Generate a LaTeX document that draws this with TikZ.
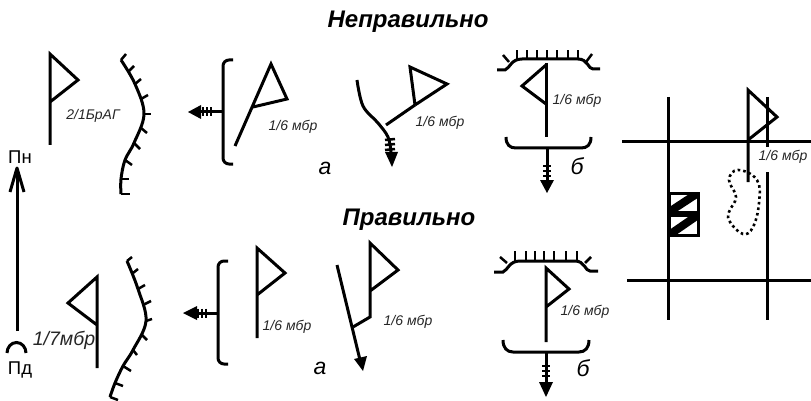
\documentclass[tikz,border=0pt]{standalone}
\usepackage{fontspec}
\setmainfont{Liberation Sans}
\tikzset{
  sym/.style={line width=3pt, line cap=butt, line join=miter},
  tick/.style={line width=2.5pt},
  tag/.style={font=\itshape\fontsize{14}{14}\selectfont, text=black!85, inner sep=0pt},
  letter/.style={font=\itshape\fontsize{23}{23}\selectfont, inner sep=0pt},
  heading/.style={font=\bfseries\itshape\fontsize{24}{24}\selectfont, inner sep=0pt},
  dir/.style={font=\fontsize{18.5}{18.5}\selectfont, inner sep=0pt}
}
% three bars and a solid head, pointing along the line
\newcommand{\headdown}[4]{% x, tip y, base y, first bar y
  \fill (#1-7,#3) -- (#1,#2) -- (#1+7,#3) -- cycle;
  \foreach \d in {0,5,10} \draw[tick] (#1-4,#4+\d) -- (#1+4,#4+\d);
}
\begin{document}
\begin{tikzpicture}[x=1pt,y=-1pt]
\useasboundingbox (0,0) rectangle (811,401);

% Headings
\node[heading] (wrong) at (408,22) {Неправильно};
\node[heading] (right) at (409,220) {Правильно};

% North - south arrow
\draw[sym] (17,331) -- (17,170);
\draw[sym,line join=round] (10,192) -- (17,168) -- (24,192);
\draw[sym] (7,353) arc (180:360:9.5 and 10.5);
\node[dir] (pn) at (20,157) {Пн};
\node[dir] (pd) at (20,370) {Пд};

% Top row: flag and edge
\draw[sym] (50,145) -- (50,54) -- (78,80) -- (50,102);
\node[tag] (brag) at (93,116) {2/1БрАГ};
\draw[sym] plot[smooth,tension=0.6] coordinates {(121,60) (135,84) (144,114) (134,143) (125,160) (121,179) (121,194)};
\foreach \xa/\ya/\xb/\yb in {121/60/126/54, 129/71/134/66, 135/84/141/79, 141/99/148/95, 144/114/151/114,
  141/128/147/133, 134/143/140/149, 125/160/132/165, 121/179/129/179, 121/194/130/194}
  \draw[tick] (\xa,\ya) -- (\xb,\yb);

% Top row: bracket, arrow and leaning flag
\draw[sym,rounded corners=6pt] (233,60) -- (223,60) -- (223,164) -- (233,164);
\draw[sym] (223,112) -- (198,112);
\fill (188,112) -- (201,105) -- (201,119) -- cycle;
\foreach \x in {203,207,211} \draw[tick] (\x,107.5) -- (\x,116.5);
\draw[sym] (235,146) -- (271,64) -- (287,99) -- (253,107);
\node[tag] (topa) at (293,127) {1/6 мбр};

% Top row: bent arrow
\draw[sym] plot[smooth,tension=0.6] coordinates {(357,80) (363,106) (378,123) (388,137) (391,152)};
\fill (385,152) -- (392,167) -- (398,152) -- cycle;
\foreach \y/\w in {139/4,144/4,149/4} \draw[tick] (389-\w,\y+1) -- (391+\w,\y);
\draw[sym] (386,125) -- (415,105);
\draw[sym] (415,105) -- (410,67) -- (447,84) -- (415,105);
\node[tag] (topb) at (440,123) {1/6 мбр};
\node[letter] (la) at (325,168) {а};

% Top row: ridge, flag and bracket
\draw[sym] (497,70) -- (505,70) .. controls (510,68) and (511,59) .. (522,59) -- (578,59) .. controls (588,59) and (588,69) .. (593,69) -- (600,69);
\foreach \x in {517,527,537,547,557,568,578} \draw[tick] (\x,60) -- (\x,50);
\draw[tick] (503,55) -- (509,62);
\draw[tick] (592,54) -- (586,62);
\draw[sym] (546,63) -- (546,137);
\draw[sym] (546,65) -- (522,86) -- (546,104);
\node[tag] (topc) at (577,101) {1/6 мбр};
\draw[sym] (506,137) .. controls (506,145) and (510,148) .. (516,148) -- (581,148) .. controls (587,148) and (591,145) .. (591,137);
\draw[sym] (547,148) -- (547,182);
\headdown{547}{193}{180}{166}
\node[letter] (lb) at (577,166) {б};

% Bottom row: flag and edge
\draw[sym] (97,368) -- (97,277) -- (68,303) -- (97,325);
\node[font=\itshape\fontsize{19.5}{19.5}\selectfont,text=black!85,inner sep=0pt] (mbr) at (64,340) {1/7мбр};
\draw[sym] plot[smooth,tension=0.6] coordinates {(127,261) (138,289) (146,321) (133,350) (123,366) (115,383) (110,397)};
\foreach \xa/\ya/\xb/\yb in {127/261/132/257, 133/273/138/269, 138/289/145/285, 143/305/151/301, 146/321/152/319,
  142/335/147/340, 133/350/137/355, 123/366/131/371, 115/383/123/386, 110/397/118/400}
  \draw[tick] (\xa,\ya) -- (\xb,\yb);

% Bottom row: bracket, arrow and flag
\draw[sym,rounded corners=6pt] (228,261) -- (218,261) -- (218,364) -- (228,364);
\draw[sym] (218,313) -- (193,313);
\fill (183,313) -- (197,306) -- (197,320) -- cycle;
\foreach \x in {198,202,206} \draw[tick] (\x,308.5) -- (\x,317.5);
\draw[sym] (257,338) -- (257,248) -- (285,273) -- (257,295);
\node[tag] (bota) at (287,327) {1/6 мбр};

% Bottom row: straight arrow with branch
\draw[sym] (337,265) -- (360,360);
\fill (354,359) -- (363,371) -- (367,356) -- cycle;
\draw[sym] (353,327) -- (370,317) -- (370,243) -- (398,270) -- (370,291);
\node[tag] (botb) at (408,322) {1/6 мбр};
\node[letter] (lc) at (320,368) {а};

% Bottom row: ridge, flag and bracket
\draw[sym] (494,272) -- (503,272) .. controls (508,270) and (509,261) .. (520,261) -- (575,261) .. controls (585,261) and (585,271) .. (590,271) -- (598,271);
\foreach \x in {515,526,535,544,554,566,577} \draw[tick] (\x,262) -- (\x,251);
\draw[tick] (500,257) -- (507,263);
\draw[tick] (591,257) -- (585,263);
\draw[sym] (546,342) -- (546,268) -- (569,289) -- (546,307);
\node[tag] (botc) at (585,312) {1/6 мбр};
\draw[sym] (503,340) .. controls (503,348) and (507,352) .. (513,352) -- (579,352) .. controls (585,352) and (589,348) .. (589,340);
\draw[sym] (546,352) -- (546,384);
\headdown{546}{397}{382}{366}
\node[letter] (ld) at (583,368) {б};

% Map on the right
\draw[sym] (668,97) -- (668,320);
\draw[sym] (622,142) -- (811,142);
\draw[sym] (627,280) -- (811,280);
\draw[sym] (767,97) -- (767,147);
\draw[sym] (767,172) -- (767,320);
\draw[sym] (748,182) -- (748,90) -- (777,117) -- (748,140);
\node[tag] (mapa) at (783,157) {1/6 мбр};

% Hatched boxes
\foreach \ya/\yb in {193/212, 215/235} {
  \begin{scope}
    \clip (669,\ya) rectangle (698,\yb);
    \draw[line width=8pt] (669,\yb) -- (698,\ya);
  \end{scope}
  \draw[line width=3pt] (669,\ya) rectangle (698,\yb);
}

% Dotted area
\draw[line width=2.6pt,dash pattern=on 2.6pt off 3pt] plot[smooth cycle,tension=0.7] coordinates
  {(738,170) (757,180) (759,203) (753,227) (743,234) (730,222) (729,212) (736,197) (729,180)};
\end{tikzpicture}
\end{document}
